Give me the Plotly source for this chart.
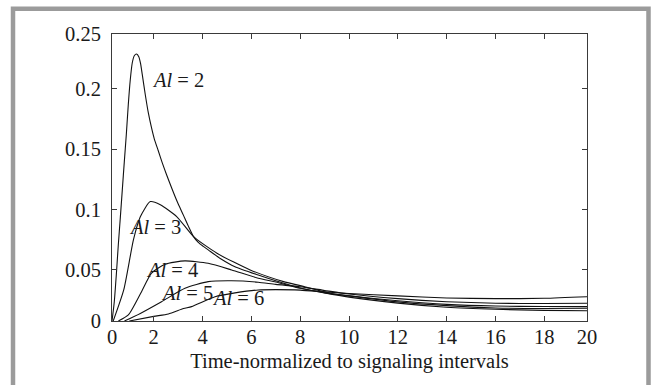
import plotly.graph_objects as go

# axis extents as drawn in the reference (edge labels sit at the frame)
X_MIN, X_MAX = 0.29, 19.75
Y_MIN, Y_MAX = 0.0077, 0.2454

x_tickvals = [X_MIN, 2, 4, 6, 8, 10, 12, 14, 16, 18, X_MAX]
x_ticktext = ["0", "2", "4", "6", "8", "10", "12", "14", "16", "18", "20"]
y_tickvals = [Y_MIN, 0.05, 0.1, 0.15, 0.2, Y_MAX]
y_ticktext = ["0", "0.05", "0.1", "0.15", "0.2", "0.25"]

x_title = "Time-normalized to signaling intervals"

al2_x = [0.29, 0.384, 0.466, 0.548, 0.630, 0.712, 0.794, 0.876, 0.957, 1.039, 1.121, 1.203, 1.297,
         1.387, 1.461, 1.531, 1.654, 1.777, 1.899, 2.022, 2.186, 2.350, 2.526, 2.747, 2.964, 3.210,
         3.414, 3.631, 3.824, 4.029, 4.233, 4.725, 5.327, 6.281, 7, 8, 9, 10, 12, 14, 16, 18, 19.75]
al2_y = [0.0077, 0.0237, 0.0458, 0.0707, 0.0931, 0.1163, 0.1395, 0.1619, 0.1868, 0.2075, 0.2216, 0.2274, 0.2288,
         0.2266, 0.2208, 0.2117, 0.1951, 0.1802, 0.1686, 0.1586, 0.1487, 0.1387, 0.1288, 0.1172, 0.1064, 0.0956,
         0.0865, 0.0776, 0.0728, 0.0695, 0.0666, 0.0595, 0.0527, 0.0458, 0.041, 0.035, 0.031, 0.0275, 0.0225,
         0.0191, 0.0174, 0.0165, 0.0162]

al3_x = [0.34, 0.77, 1.17, 1.45, 1.86, 2.27, 2.95, 3.63, 4.59, 5.95, 7.32, 8, 9.23, 10, 12, 14, 16, 18, 19.75]
al3_y = [0.0077, 0.0334, 0.075, 0.094, 0.1066, 0.104, 0.094, 0.0776, 0.0638, 0.050, 0.0403, 0.037, 0.0307,
         0.0285, 0.0235, 0.0204, 0.0185, 0.018, 0.0182]

al4_x = [0.55, 0.96, 1.50, 1.91, 2.46, 3.28, 4.23, 5.19, 6.28, 7, 8, 9, 10, 12, 14, 16, 18, 19.75]
al4_y = [0.0077, 0.0127, 0.032, 0.0473, 0.0547, 0.0575, 0.0555, 0.050, 0.0431, 0.040, 0.0348, 0.031, 0.0285,
         0.0245, 0.0215, 0.0201, 0.0197, 0.0196]

al5_x = [0.8, 1.45, 2.32, 3.28, 4.23, 5.19, 6.28, 7, 8, 9, 10, 12, 14, 16, 18, 19.75]
al5_y = [0.0077, 0.014, 0.0237, 0.0348, 0.0403, 0.041, 0.0398, 0.038, 0.0361, 0.033, 0.0300, 0.0262, 0.0237,
         0.0224, 0.0222, 0.0224]

al6_x = [1.0, 2.0, 2.6, 3.22, 3.55, 4.51, 5.33, 6.28, 7, 8, 9, 10, 12, 14, 16, 18, 19.75]
al6_y = [0.0077, 0.0115, 0.0135, 0.018, 0.0196, 0.0278, 0.031, 0.0334, 0.0337, 0.0333, 0.0318, 0.0305, 0.0285,
         0.0268, 0.0262, 0.0265, 0.0278]

series = [(al2_x, al2_y), (al3_x, al3_y), (al4_x, al4_y), (al5_x, al5_y), (al6_x, al6_y)]

label_text = ["<i>Al</i> = 2", "<i>Al</i> = 3", "<i>Al</i> = 4", "<i>Al</i> = 5", "<i>Al</i> = 6"]
label_x = [3.01, 2.05, 2.75, 3.345, 5.47]
label_y = [0.2075, 0.0859, 0.0500, 0.0307, 0.0265]

FONT = "Liberation Serif, Times New Roman, serif"
FS = 20.5
AX = "#3a3a3a"

fig = go.Figure()
for xs, ys in series:
    fig.add_trace(go.Scatter(x=xs, y=ys, mode="lines",
                             line=dict(color="#111111", width=1.1, shape="spline", smoothing=0.6),
                             showlegend=False, hoverinfo="skip", cliponaxis=True))

for t, lx, ly in zip(label_text, label_x, label_y):
    fig.add_annotation(x=lx, y=ly, text=t, showarrow=False, xanchor="center", yanchor="middle",
                       font=dict(family=FONT, size=FS, color="#1a1a1a"), bgcolor="rgba(0,0,0,0)")

W, H = 651, 385
L, R, T, B = 112, 64, 34, 64
pw, ph = W - L - R, H - T - B

def px(x):
    return (x - L) / pw

def py(y):
    return (H - B - y) / ph

fig.add_shape(type="rect", xref="paper", yref="paper",
              x0=px(13), x1=px(648.5), y0=py(400), y1=py(8.8),
              line=dict(color="#9b9b9b", width=4.5), fillcolor="rgba(0,0,0,0)", layer="above")

fig.update_layout(
    width=W, height=H,
    margin=dict(l=L, r=R, t=T, b=B, pad=0),
    paper_bgcolor="white", plot_bgcolor="white",
    font=dict(family=FONT, size=FS, color="#1a1a1a"),
    xaxis=dict(range=[X_MIN, X_MAX], tickvals=x_tickvals, ticktext=x_ticktext,
               ticks="inside", ticklen=5, tickwidth=1, tickcolor=AX,
               showline=True, linecolor=AX, linewidth=1, mirror="ticks",
               showgrid=False, zeroline=False, automargin=False,
               ticklabelstandoff=-3,
               title=dict(text=x_title, standoff=7, font=dict(size=FS))),
    yaxis=dict(range=[Y_MIN, Y_MAX], tickvals=y_tickvals, ticktext=y_ticktext,
               ticks="inside", ticklen=5, tickwidth=1, tickcolor=AX,
               showline=True, linecolor=AX, linewidth=1, mirror="ticks",
               showgrid=False, zeroline=False, automargin=False,
               ticklabelstandoff=6),
)

fig.write_html("out.html")
